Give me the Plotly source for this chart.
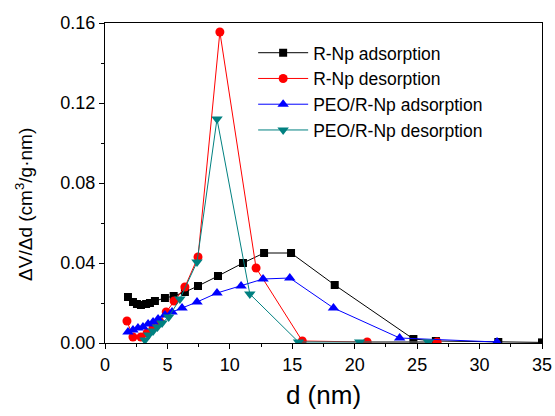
import plotly.graph_objects as go

# R-Np adsorption
rnp_ads_x = [1.84, 2.24, 2.56, 2.88, 3.29, 3.6, 4.0, 4.8, 5.5, 6.4, 7.45, 9.05, 11.05, 12.74, 14.9, 18.4, 24.7, 26.5, 31.5, 35.0]
rnp_ads_y = [0.023, 0.0205, 0.0195, 0.019, 0.0195, 0.020, 0.021, 0.0225, 0.0235, 0.0255, 0.0285, 0.0335, 0.040, 0.045, 0.045, 0.029, 0.002, 0.001, 0.0005, 0.0003]

# R-Np desorption
rnp_des_x = [1.76, 2.24, 2.88, 3.37, 3.85, 4.4, 4.9, 5.53, 6.4, 7.45, 9.2, 12.1, 15.8, 21.0, 26.6]
rnp_des_y = [0.011, 0.003, 0.003, 0.005, 0.0075, 0.0105, 0.0155, 0.021, 0.028, 0.043, 0.1555, 0.0375, 0.001, 0.0005, 0.0005]

# PEO/R-Np adsorption
peo_ads_x = [1.84, 2.24, 2.64, 3.04, 3.45, 3.85, 4.25, 4.8, 5.37, 6.17, 7.37, 8.97, 10.9, 12.66, 14.8, 18.3, 23.6, 31.4]
peo_ads_y = [0.0055, 0.0065, 0.0075, 0.008, 0.0095, 0.0105, 0.012, 0.014, 0.0155, 0.0175, 0.0205, 0.025, 0.0285, 0.032, 0.0325, 0.0175, 0.0025, 0.0005]

# PEO/R-Np desorption
peo_des_x = [3.2, 3.5, 3.85, 4.2, 4.57, 5.1, 6.0, 7.37, 8.97, 11.6, 15.5, 20.4, 25.9]
peo_des_y = [0.0015, 0.004, 0.006, 0.008, 0.010, 0.013, 0.022, 0.0405, 0.112, 0.0245, 0.0005, 0.0005, 0.0005]

x_ticks = [0, 5, 10, 15, 20, 25, 30, 35]
y_ticks = [0.00, 0.04, 0.08, 0.12, 0.16]
y_tick_labels = ["0.00", "0.04", "0.08", "0.12", "0.16"]

FONT = "Liberation Sans, Arial, sans-serif"

fig = go.Figure()
fig.add_trace(go.Scatter(x=rnp_ads_x, y=rnp_ads_y, name="R-Np adsorption", mode="lines+markers",
                         line=dict(color="#000000", width=1),
                         marker=dict(symbol="square", size=8, color="#000000")))
fig.add_trace(go.Scatter(x=rnp_des_x, y=rnp_des_y, name="R-Np desorption", mode="lines+markers",
                         line=dict(color="#FF0000", width=1),
                         marker=dict(symbol="circle", size=9, color="#FF0000")))
fig.add_trace(go.Scatter(x=peo_ads_x, y=peo_ads_y, name="PEO/R-Np adsorption", mode="lines+markers",
                         line=dict(color="#0000FF", width=1),
                         marker=dict(symbol="triangle-up", size=10, color="#0000FF")))
fig.add_trace(go.Scatter(x=peo_des_x, y=peo_des_y, name="PEO/R-Np desorption", mode="lines+markers",
                         line=dict(color="#008080", width=1),
                         marker=dict(symbol="triangle-down", size=10, color="#008080")))

fig.update_layout(
    width=555, height=416,
    margin=dict(l=105, r=13, t=23, b=73),
    paper_bgcolor="white", plot_bgcolor="white",
    font=dict(family=FONT, size=18, color="black"),
    showlegend=True,
    legend=dict(x=0.339, y=0.963, xanchor="left", yanchor="top",
                bgcolor="rgba(0,0,0,0)", font=dict(size=17.5, family=FONT),
                itemwidth=50, tracegroupgap=0),
    xaxis=dict(range=[0, 35], tickmode="array", tickvals=x_ticks, automargin=False,
               ticks="outside", ticklen=5, tickwidth=1, tickcolor="black",
               minor=dict(ticks="outside", ticklen=3, dtick=2.5, tickcolor="black"),
               showline=True, linecolor="black", linewidth=1, mirror=True,
               showgrid=False, zeroline=False,
               title=dict(text="d (nm)", font=dict(size=26, family=FONT), standoff=12),
               tickfont=dict(size=18, family=FONT)),
    yaxis=dict(range=[0, 0.16], tickmode="array", tickvals=y_ticks, ticktext=y_tick_labels, automargin=False,
               ticks="outside", ticklen=5, tickwidth=1, tickcolor="black",
               minor=dict(ticks="outside", ticklen=3, dtick=0.02, tickcolor="black"),
               showline=True, linecolor="black", linewidth=1, mirror=True,
               showgrid=False, zeroline=False,
               tickfont=dict(size=18, family=FONT)),
    annotations=[dict(text="ΔV/Δd (cm<sup>3</sup>/g·nm)", textangle=-90,
                      xref="paper", yref="paper", x=-0.185, y=0.432,
                      xanchor="center", yanchor="middle", showarrow=False,
                      font=dict(size=19, family=FONT, color="black"))],
)

fig.write_html("out.html", config={"displayModeBar": False},
               post_script="document.body.style.margin='0';")
